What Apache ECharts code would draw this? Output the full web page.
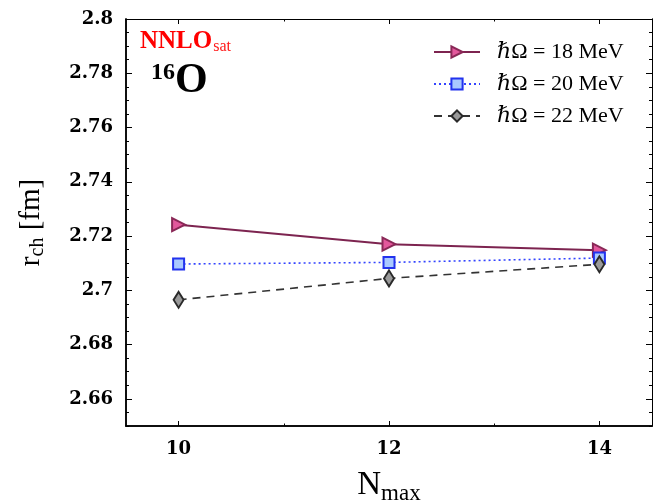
<!DOCTYPE html>
<html><head><meta charset="utf-8">
<script src="https://cdn.jsdelivr.net/npm/echarts@6/dist/echarts.min.js"></script>
<style>html,body{margin:0;padding:0;background:#fff}#c{width:657px;height:504px}</style>
</head><body><div id="c"></div>
<script>
const nmax = [10, 12, 14];
const rch18 = [2.7242, 2.7170, 2.7148];
const rch20 = [2.7097, 2.7103, 2.7119];
const rch22 = [2.6965, 2.7044, 2.7096];
const seriesNames = ['ℏΩ = 18 MeV', 'ℏΩ = 20 MeV', 'ℏΩ = 22 MeV'];
const yMajor = [2.66, 2.68, 2.7, 2.72, 2.74, 2.76, 2.78, 2.8];
const yMinor = [];
for (let k = 0; k <= 30; k++) yMinor.push(+(2.65 + k * 0.005).toFixed(3));
const xLabels = [10, 12, 14];
const xMajor = [10, 12, 14];
const xMinor = [11, 13];

const serif = "'Liberation Serif','DejaVu Serif',serif";
const tickFont = "'DejaVu Serif','Liberation Serif',serif";
const pair = (xs, ys) => xs.map((x, i) => [x, ys[i]]);

const ax = (o) => Object.assign({
  type: 'value', splitLine: {show: false},
  axisLine: {show: true, onZero: false, lineStyle: {color: '#000', width: 1.5}},
}, o);

const yFmt = v => String(+(+v).toFixed(2));

const option = {
  animation: false,
  grid: {left: 126, right: 5, top: 19, bottom: 78, show: false, outerBoundsMode: 'none', containLabel: false},
  xAxis: [
    ax({min: 9.5, max: 14.5, position: 'bottom',
      name: '{a|N}{b|max}', nameLocation: 'middle', nameGap: 40,
      nameTextStyle: {rich: {a: {fontFamily: serif, fontSize: 33, color: '#000'}, b: {fontFamily: serif, fontSize: 23, color: '#000', padding: [16, 0, 0, 0]}}},
      axisTick: {show: true, inside: true, length: 5, customValues: xMajor, lineStyle: {color: '#000'}},
      axisLabel: {show: true, customValues: xLabels, margin: 14, fontFamily: tickFont, fontWeight: 'bold', fontSize: 18, color: '#000'}}),
    ax({min: 9.5, max: 14.5, position: 'bottom',
      axisTick: {show: true, inside: true, length: 2.5, customValues: xMinor, lineStyle: {color: '#000'}},
      axisLabel: {show: false}}),
    ax({min: 9.5, max: 14.5, position: 'top', axisLine: {show: true, lineStyle: {color: '#000', width: 1}},
      axisTick: {show: true, inside: true, length: 5, customValues: xMajor, lineStyle: {color: '#000'}},
      axisLabel: {show: false}}),
    ax({min: 9.5, max: 14.5, position: 'top', axisLine: {show: true, lineStyle: {color: '#000', width: 1}},
      axisTick: {show: true, inside: true, length: 2.5, customValues: xMinor, lineStyle: {color: '#000'}},
      axisLabel: {show: false}})
  ],
  yAxis: [
    ax({min: 2.65, max: 2.8, position: 'left',
      name: '{a|r}{b|ch}{a| [fm]}', nameLocation: 'middle', nameGap: 78,
      nameTextStyle: {rich: {a: {fontFamily: serif, fontSize: 29, color: '#000'}, b: {fontFamily: serif, fontSize: 20, color: '#000', padding: [13, 0, 0, 0]}}},
      axisTick: {show: true, inside: true, length: 6, customValues: yMajor, lineStyle: {color: '#000'}},
      axisLabel: {show: true, customValues: yMajor, margin: 13, formatter: yFmt, fontFamily: tickFont, fontWeight: 'bold', fontSize: 18, color: '#000'}}),
    ax({min: 2.65, max: 2.8, position: 'left',
      axisTick: {show: true, inside: true, length: 3, customValues: yMinor, lineStyle: {color: '#000'}},
      axisLabel: {show: false}}),
    ax({min: 2.65, max: 2.8, position: 'right', axisLine: {show: true, lineStyle: {color: '#000', width: 1}},
      axisTick: {show: true, inside: true, length: 6, customValues: yMajor, lineStyle: {color: '#000'}},
      axisLabel: {show: false}}),
    ax({min: 2.65, max: 2.8, position: 'right', axisLine: {show: true, lineStyle: {color: '#000', width: 1}},
      axisTick: {show: true, inside: true, length: 3, customValues: yMinor, lineStyle: {color: '#000'}},
      axisLabel: {show: false}})
  ],
  legend: {
    orient: 'vertical', left: 428, top: 36, itemGap: 10, itemWidth: 46, itemHeight: 14,
    data: seriesNames,
    textStyle: {fontFamily: serif, fontSize: 22, color: '#000', padding: [0, 0, 0, 12]}
  },
  graphic: [
    {type: 'text', left: 140, top: 29, style: {
      text: '{a|NNLO}{b|sat}',
      rich: {a: {fontFamily: serif, fontWeight: 'bold', fontSize: 25, fill: '#ff0000', color: '#ff0000'},
             b: {fontFamily: serif, fontSize: 16, fill: '#ff1a1a', color: '#ff1a1a', padding: [11, 0, 0, 1]}}}},
    {type: 'text', left: 151, top: 60, style: {
      text: '{a|16}{b|O}',
      rich: {a: {fontFamily: serif, fontWeight: 'bold', fontSize: 24, fill: '#000', color: '#000', padding: [0, 0, 16, 0]},
             b: {fontFamily: serif, fontWeight: 'bold', fontSize: 42, fill: '#000', color: '#000'}}}}
  ],
  series: [
    {name: seriesNames[0], type: 'line', data: pair(nmax, rch18),
      symbol: 'triangle', symbolRotate: -90, symbolSize: 13,
      lineStyle: {color: '#7d2450', width: 2},
      itemStyle: {color: '#e3589c', borderColor: '#8a2857', borderWidth: 2}},
    {name: seriesNames[1], type: 'line', data: pair(nmax, rch20),
      symbol: 'rect', symbolSize: 11,
      lineStyle: {color: '#3344ff', width: 1.6, type: [2, 3]},
      itemStyle: {color: '#a9c9ff', borderColor: '#2233ee', borderWidth: 2}},
    {name: seriesNames[2], type: 'line', data: pair(nmax, rch22),
      symbol: 'diamond', symbolSize: [10, 16],
      lineStyle: {color: '#333', width: 1.6, type: [8, 6]},
      itemStyle: {color: '#9a9a9a', borderColor: '#2a2a2a', borderWidth: 2}}
  ]
};
const chart = echarts.init(document.getElementById('c'), null, {renderer: 'canvas'});
chart.setOption(option);
</script>
</body></html>
